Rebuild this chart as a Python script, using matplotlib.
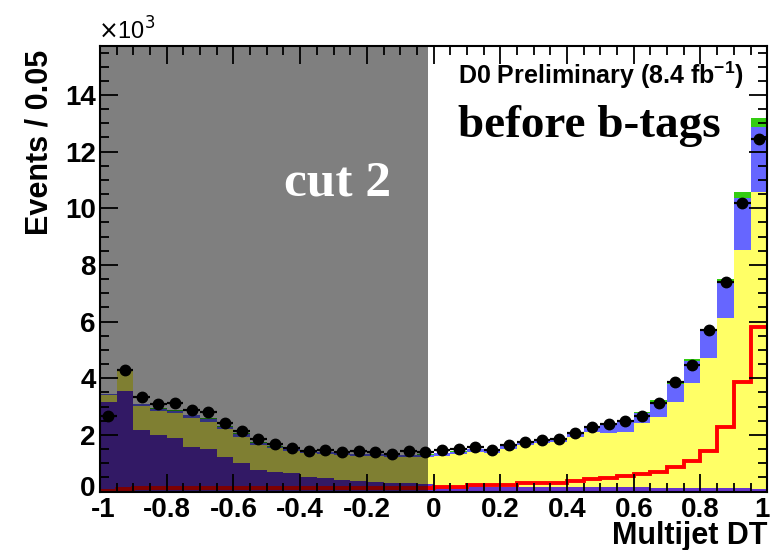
import numpy as np
import matplotlib
matplotlib.use("Agg")
import matplotlib.pyplot as plt
from matplotlib.ticker import MultipleLocator, FixedLocator, FixedFormatter
from matplotlib.transforms import ScaledTranslation

# Multijet DT distribution, 40 bins of width 0.05 on [-1, 1]; counts in events
edges = np.linspace(-1.0, 1.0, 41)

multijet = [3170, 3560, 2170, 2000, 1880, 1580, 1490, 1210, 1000, 760,
            700, 640, 520, 470, 410, 370, 350, 310, 290, 270,
            190, 180, 180, 170, 170, 170, 160, 160, 160, 150,
            150, 150, 150, 140, 140, 140, 140, 140, 120, 100]
wjets = [220, 680, 850, 840, 880, 1010, 980, 990, 940, 880,
         830, 800, 850, 850, 880, 900, 900, 920, 930, 960,
         1080, 1150, 1230, 1200, 1330, 1470, 1540, 1600, 1780, 1960,
         1930, 1960, 2260, 2500, 3030, 3680, 4570, 5980, 8410, 10490]
other = [50, 30, 60, 90, 100, 100, 90, 90, 90, 80,
         50, 60, 50, 60, 60, 50, 60, 60, 60, 60,
         80, 80, 80, 80, 90, 90, 120, 120, 140, 160,
         270, 340, 350, 530, 620, 800, 940, 1290, 1830, 2280]
top_bkg = [20, 20, 20, 20, 20, 20, 20, 20, 20, 20,
           20, 20, 20, 20, 20, 20, 20, 20, 20, 20,
           20, 20, 20, 20, 20, 20, 20, 25, 25, 25,
           30, 30, 40, 50, 40, 50, 80, 90, 200, 320]
signal_line = [20, 80, 120, 120, 130, 130, 140, 140, 140, 140,
               140, 130, 130, 130, 130, 130, 130, 130, 140, 140,
               170, 170, 230, 230, 230, 290, 290, 290, 380, 440,
               470, 550, 610, 700, 850, 1080, 1440, 2290, 3850, 5800]
data = [2670, 4290, 3350, 3090, 3140, 2880, 2820, 2410, 2140, 1840,
        1670, 1530, 1430, 1470, 1410, 1430, 1380, 1330, 1440, 1410,
        1470, 1500, 1580, 1470, 1640, 1760, 1820, 1840, 2080, 2260,
        2390, 2500, 2680, 3120, 3880, 4450, 5710, 7380, 10180, 12460]

x_ticks = [-1.0, -0.8, -0.6, -0.4, -0.2, 0.0, 0.2, 0.4, 0.6, 0.8, 1.0]
x_tick_labels = ["-1", "-0.8", "-0.6", "-0.4", "-0.2", "0", "0.2", "0.4", "0.6", "0.8", "1"]
y_ticks = [0, 2000, 4000, 6000, 8000, 10000, 12000, 14000]
y_tick_labels = ["0", "2", "4", "6", "8", "10", "12", "14"]

cut_edge = -0.017
y_max = 15730

W, H = 773, 550
fig = plt.figure(figsize=(W / 100, H / 100), dpi=100)
ax = fig.add_axes([100 / W, 1 - 491.5 / H, 667.2 / W, 445.5 / H])

sans = ["Liberation Sans", "DejaVu Sans"]
serif = ["Liberation Serif", "DejaVu Serif"]

# stacked backgrounds
components = [
    (multijet, "#6633cc"),
    (wjets, "#ffff66"),
    (other, "#6666ff"),
    (top_bkg, "#33cc11"),
]
base = np.zeros(40)
for vals, col in components:
    cum = base + np.asarray(vals, float)
    ax.stairs(cum, edges, baseline=base, fill=True, color=col, lw=0, zorder=0.5)
    base = cum

ax.stairs(signal_line, edges, baseline=None, color="#ff0000", lw=2.8, zorder=0.8)

# shaded region removed by the cut
ax.axvspan(-1.0, cut_edge, ymin=0, ymax=0.997, color="black", alpha=0.5, lw=0, zorder=1.0)

centers = 0.5 * (edges[:-1] + edges[1:])
ax.errorbar(centers, data, xerr=0.025, yerr=np.sqrt(data), fmt="o", color="black",
            ms=7.5, elinewidth=1.6, capsize=0, zorder=3)

ax.set_xlim(-1, 1)
ax.set_ylim(0, y_max)

ax.xaxis.set_major_locator(FixedLocator(x_ticks))
ax.xaxis.set_major_formatter(FixedFormatter(x_tick_labels))
ax.xaxis.set_minor_locator(MultipleLocator(0.05))
ax.yaxis.set_major_locator(FixedLocator(y_ticks))
ax.yaxis.set_major_formatter(FixedFormatter(y_tick_labels))
ax.yaxis.set_minor_locator(MultipleLocator(500))

ax.tick_params(which="both", direction="in", top=True, right=True, width=1.3, color="black")
ax.tick_params(which="major", length=13)
ax.tick_params(which="minor", length=6.5)
ax.tick_params(axis="x", which="major", pad=4)
ax.tick_params(axis="y", which="major", pad=3)
for lab in ax.get_xticklabels() + ax.get_yticklabels():
    lab.set_fontfamily(sans)
    lab.set_fontweight("bold")
    lab.set_fontsize(20)

# nudge the corner and end labels so they stay apart and inside the canvas
xlabs = ax.get_xticklabels()
xlabs[0].set_transform(xlabs[0].get_transform() + ScaledTranslation(3 / 100, 0, fig.dpi_scale_trans))
xlabs[-1].set_transform(xlabs[-1].get_transform() + ScaledTranslation(-5 / 100, 0, fig.dpi_scale_trans))
ylabs = ax.get_yticklabels()
ylabs[0].set_transform(ylabs[0].get_transform() + ScaledTranslation(0, 5 / 100, fig.dpi_scale_trans))

for sp in ax.spines.values():
    sp.set_linewidth(1.5)
    sp.set_zorder(4)

fig.text(40 / W, 1 - 142 / H, "Events / 0.05", rotation=90, ha="center", va="center",
         fontsize=22, fontweight="bold", family=sans)
fig.text(768 / W, 1 - 544 / H, "Multijet DT", ha="right", va="baseline",
         fontsize=22, fontweight="bold", family=sans)
fig.text(98 / W, 1 - 40 / H, r"$\times$10$^{3}$", ha="left", va="baseline",
         fontsize=17, family=sans)

fig.text(338 / W, 1 - 183 / H, "cut 2", ha="center", va="center", color="white",
         fontsize=37, fontweight="bold", family=serif)
fig.text(458 / W, 1 - 137 / H, "before b-tags", ha="left", va="baseline", color="black",
         fontsize=34, fontweight="bold", family=serif)
fig.text(458 / W, 1 - 84 / H, r"D0 Preliminary (8.4 fb$^{\mathregular{-1}}$)", ha="left",
         va="baseline", color="black", fontsize=18, fontweight="bold", family=sans)

fig.savefig("out.png", dpi=100)
